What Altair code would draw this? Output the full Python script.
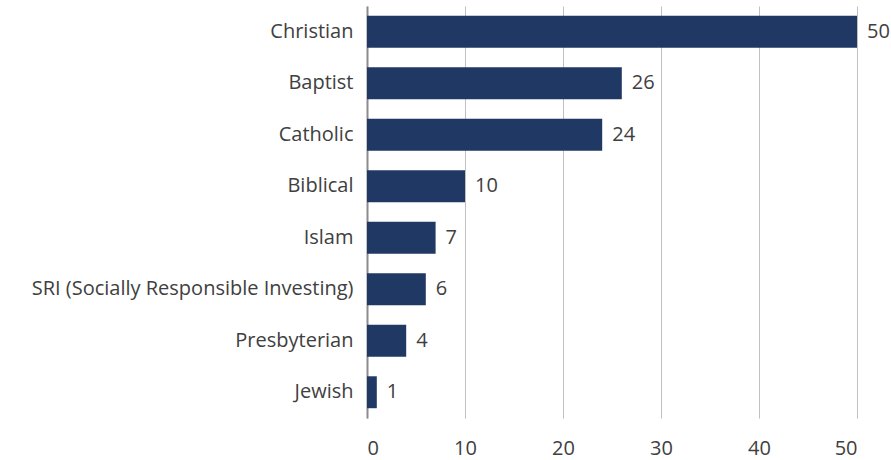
import altair as alt
import pandas as pd

categories = ["Christian", "Baptist", "Catholic", "Biblical", "Islam",
              "SRI (Socially Responsible Investing)", "Presbyterian", "Jewish"]
values = [50, 26, 24, 10, 7, 6, 4, 1]
x_ticks = [0, 10, 20, 30, 40, 50]

df = pd.DataFrame({"category": categories, "value": values})

FONT = "Open Sans"
TXT = "#404040"
FS = 20

y = alt.Y("category:N", sort=categories, title=None,
          scale=alt.Scale(paddingInner=0.38, paddingOuter=0.19),
          axis=alt.Axis(domain=True, domainColor="#8c8c8c", domainWidth=2,
                        ticks=False, labelFontSize=FS, labelFont=FONT,
                        labelColor=TXT, labelPadding=14, grid=False,
                        labelLimit=400))
x = alt.X("value:Q", title=None,
          scale=alt.Scale(domain=[0, 50], nice=False),
          axis=alt.Axis(values=x_ticks, domain=False, ticks=False,
                        grid=True, gridColor="#c0c0c0", gridWidth=1,
                        labelFontSize=FS, labelFont=FONT, labelColor=TXT,
                        labelPadding=20))

bars = alt.Chart(df).mark_bar(color="#203864").encode(x=x, y=y)
labels = alt.Chart(df).mark_text(align="left", baseline="middle", dx=10,
                                 fontSize=FS, font=FONT, color=TXT).encode(
    x="value:Q", y=alt.Y("category:N", sort=categories), text="value:Q")

chart = (bars + labels).properties(
    width=490, height=412,
    autosize=alt.AutoSizeParams(type="none"),
    padding={"left": 367, "top": 6, "right": 34, "bottom": 42},
).configure_view(stroke=None)

chart.save("out.html", embed_options={"renderer": "svg", "actions": False})
